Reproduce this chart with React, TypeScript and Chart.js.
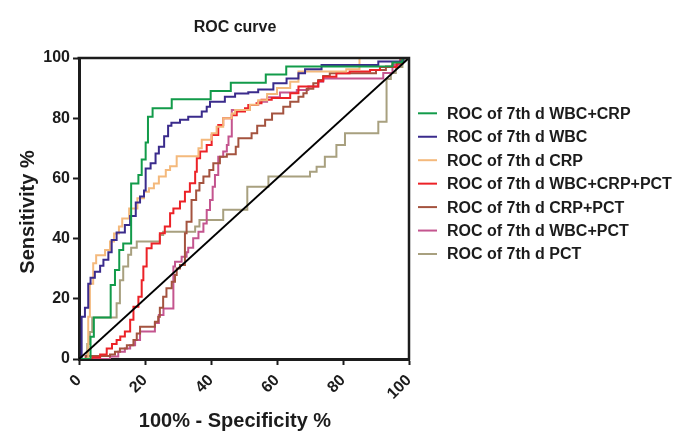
import React, { useEffect, useRef } from "react";
import { Chart, registerables } from "chart.js";

Chart.register(...registerables);

const chartTitle = "ROC curve";
const xAxisTitle = "100% - Specificity %";
const yAxisTitle = "Sensitivity %";
const xTickValues = [0, 20, 40, 60, 80, 100];
const yTickValues = [0, 20, 40, 60, 80, 100];

const seriesLabels = [
  "ROC of 7th d WBC+CRP",
  "ROC of 7th d WBC",
  "ROC of 7th d CRP",
  "ROC of 7th d WBC+CRP+PCT",
  "ROC of 7th d CRP+PCT",
  "ROC of 7th d WBC+PCT",
  "ROC of 7th d PCT",
];
const seriesColors = ["#129b4a", "#3a2b8c", "#f4b97c", "#ec2227", "#a4533f", "#c4558f", "#a8a07f"];

// [100% - specificity, sensitivity] vertices
const rocWbcCrp: number[][] = [
  [0, 0], [3.5, 0], [3.5, 7.4], [4.5, 7.4], [4.5, 13.8], [9.6, 13.8], [9.6, 24.6], [10.9, 24.6], [10.9, 29.6],
  [12.2, 29.6], [12.2, 36.2], [13.4, 36.2], [13.4, 38.4], [15.8, 38.4], [15.8, 58.3], [18, 58.3], [18, 61.1],
  [19, 61.1], [19, 66.3], [20.2, 66.3], [20.2, 71.9], [20.9, 71.9], [20.9, 80.5], [22.3, 80.5], [22.3, 83.3],
  [28.1, 83.3], [28.1, 86.3], [39.9, 86.3], [39.9, 89], [46, 89], [46, 91.8], [56.6, 91.8], [56.6, 94.5],
  [62.8, 94.5], [62.8, 97.2], [95, 97.2], [95, 98.5], [98, 98.5], [98, 100], [100, 100],
];
const rocWbc: number[][] = [
  [0, 0], [0.8, 0], [0.8, 14], [1.8, 14], [1.8, 17], [2.8, 17], [2.8, 25], [3.5, 25], [3.5, 27], [4.8, 27],
  [4.8, 29], [6.4, 29], [6.4, 31], [7.4, 31], [7.4, 33], [8.9, 33], [8.9, 35.5], [9.9, 35.5], [9.9, 39.5],
  [11.4, 39.5], [11.4, 42], [13.9, 42], [13.9, 44.5], [15.5, 44.5], [15.5, 47.5], [17.2, 47.5], [17.2, 52],
  [18.5, 52], [18.5, 54], [19.7, 54], [19.7, 56], [20.2, 56], [20.2, 63.3], [21.7, 63.3], [21.7, 65],
  [23.2, 65], [23.2, 68.3], [24.2, 68.3], [24.2, 70.5], [25.8, 70.5], [25.8, 74], [27, 74], [27, 77.5],
  [28, 77.5], [28, 78.5], [30.6, 78.5], [30.6, 79.5], [33.1, 79.5], [33.1, 80.5], [37.2, 80.5], [37.2, 82.2],
  [38.7, 82.2], [38.7, 83.8], [39.7, 83.8], [39.7, 85.5], [44.2, 85.5], [44.2, 87.1], [47.3, 87.1],
  [47.3, 88.2], [51.3, 88.2], [51.3, 88.6], [54.3, 88.6], [54.3, 89.5], [58.9, 89.5], [58.9, 91.6],
  [62.9, 91.6], [62.9, 93.2], [66.5, 93.2], [66.5, 94.9], [68.5, 94.9], [68.5, 96.3], [73.5, 96.3],
  [73.5, 97.7], [90.7, 97.7], [90.7, 98.8], [98.3, 98.8], [98.3, 100], [100, 100],
];
const rocCrp: number[][] = [
  [0, 0], [2.8, 0], [2.8, 14], [3.3, 14], [3.3, 25], [4.3, 25], [4.3, 31.8], [5.2, 31.8], [5.2, 34.5],
  [7.9, 34.5], [7.9, 36.2], [9.4, 36.2], [9.4, 39], [10.6, 39], [10.6, 41.7], [12.1, 41.7], [12.1, 44],
  [13.1, 44], [13.1, 46.7], [15.2, 46.7], [15.2, 50], [17.7, 50], [17.7, 53.4], [19.7, 53.4], [19.7, 55.6],
  [21.2, 55.6], [21.2, 56.7], [22.7, 56.7], [22.7, 58.3], [24.2, 58.3], [24.2, 60.6], [26.3, 60.6],
  [26.3, 62.8], [27.6, 62.8], [27.6, 64], [29.6, 64], [29.6, 67.4], [36.2, 67.4], [36.2, 70], [37.2, 70],
  [37.2, 72.8], [40.2, 72.8], [40.2, 75], [41.7, 75], [41.7, 77.2], [43.7, 77.2], [43.7, 80], [46.3, 80],
  [46.3, 81.6], [47.3, 81.6], [47.3, 82.7], [51.8, 82.7], [51.8, 84.5], [54.3, 84.5], [54.3, 86], [57, 86],
  [57, 88], [60, 88], [60, 90], [64, 90], [64, 92.1], [66.5, 92.1], [66.5, 95.5], [81, 95.5], [81, 96.3],
  [85, 96.3], [85, 100], [100, 100],
];
const rocWbcCrpPct: number[][] = [
  [0, 0], [4, 0], [4, 0.5], [6.4, 0.5], [6.4, 1.5], [8.4, 1.5], [8.4, 3.5], [10, 3.5], [10, 5], [11.4, 5],
  [11.4, 6.3], [12.5, 6.3], [12.5, 7.5], [13.9, 7.5], [13.9, 9.1], [15.5, 9.1], [15.5, 13], [16.5, 13],
  [16.5, 17.4], [18, 17.4], [18, 20.7], [19, 20.7], [19, 26.2], [19.5, 26.2], [19.5, 30.7], [20.5, 30.7],
  [20.5, 36.8], [22, 36.8], [22, 38.4], [24.5, 38.4], [24.5, 41.8], [26, 41.8], [26, 44], [27.6, 44],
  [27.6, 48.4], [28.6, 48.4], [28.6, 50], [30.6, 50], [30.6, 52.3], [32.1, 52.3], [32.1, 55.6], [33.6, 55.6],
  [33.6, 58.4], [35.2, 58.4], [35.2, 62.2], [35.7, 62.2], [35.7, 66.7], [36.7, 66.7], [36.7, 68.9],
  [38.7, 68.9], [38.7, 71.1], [40.2, 71.1], [40.2, 74.4], [42.2, 74.4], [42.2, 77.7], [43.7, 77.7],
  [43.7, 80], [46.3, 80], [46.3, 81], [47.8, 81], [47.8, 82.2], [50.3, 82.2], [50.3, 83.3], [51.3, 83.3],
  [51.3, 84.4], [53.8, 84.4], [53.8, 85], [55.3, 85], [55.3, 86.1], [58.4, 86.1], [58.4, 86.7], [64, 86.7],
  [64, 88.3], [66.5, 88.3], [66.5, 90.5], [72.5, 90.5], [72.5, 92.4], [74, 92.4], [74, 93.8], [78, 93.8],
  [78, 94.9], [82, 94.9], [82, 95.5], [88.2, 95.5], [88.2, 96], [91.2, 96], [91.2, 97], [96.3, 97],
  [96.3, 98.2], [98, 98.2], [98, 100], [100, 100],
];
const rocCrpPct: number[][] = [
  [0, 0], [2, 0], [2, 1], [9.4, 1], [9.4, 1.5], [10.9, 1.5], [10.9, 2.4], [12.4, 2.4], [12.4, 3.5],
  [14.5, 3.5], [14.5, 4.6], [16.5, 4.6], [16.5, 6.3], [17.5, 6.3], [17.5, 8.5], [18.5, 8.5], [18.5, 10.7],
  [23, 10.7], [23, 12.4], [24, 12.4], [24, 14], [24.5, 14], [24.5, 17], [25.5, 17], [25.5, 20.7],
  [26.5, 20.7], [26.5, 23.5], [28.1, 23.5], [28.1, 25.7], [29.1, 25.7], [29.1, 27.9], [29.6, 27.9],
  [29.6, 30.1], [30.6, 30.1], [30.6, 31.2], [32.1, 31.2], [32.1, 41.8], [32.6, 41.8], [32.6, 45.6],
  [34.1, 45.6], [34.1, 52.8], [35.5, 52.8], [35.5, 56], [36.5, 56], [36.5, 58.5], [37.7, 58.5],
  [37.7, 60.6], [39.5, 60.6], [39.5, 62.8], [40.7, 62.8], [40.7, 65], [42.7, 65], [42.7, 67.2],
  [44.8, 67.2], [44.8, 68], [47.5, 68], [47.5, 70.5], [48.3, 70.5], [48.3, 73.3], [52.3, 73.3], [52.3, 75],
  [54, 75], [54, 77.5], [56.4, 77.5], [56.4, 79.5], [58.5, 79.5], [58.5, 81.6], [61.9, 81.6], [61.9, 83.8],
  [64, 83.8], [64, 85.5], [66.5, 85.5], [66.5, 87.1], [68, 87.1], [68, 88.3], [69, 88.3], [69, 89.8],
  [71, 89.8], [71, 91.6], [72.5, 91.6], [72.5, 92.7], [74, 92.7], [74, 94], [76, 94], [76, 94.9], [90, 94.9],
  [90, 96], [93, 96], [93, 97.2], [95, 97.2], [95, 98.5], [97.5, 98.5], [97.5, 100], [100, 100],
];
const rocWbcPct: number[][] = [
  [0, 0], [9.4, 0], [9.4, 0.8], [11.9, 0.8], [11.9, 2.4], [13.9, 2.4], [13.9, 3.5], [15.5, 3.5], [15.5, 4.6],
  [17, 4.6], [17, 6.3], [18.5, 6.3], [18.5, 9.1], [23, 9.1], [23, 12], [24.2, 12], [24.2, 14.6], [25.6, 14.6],
  [25.6, 16.8], [28.6, 16.8], [28.6, 30.7], [29.1, 30.7], [29.1, 32.3], [31.1, 32.3], [31.1, 34], [32.6, 34],
  [32.6, 35.5], [33.1, 35.5], [33.1, 37], [34.6, 37], [34.6, 40.1], [36.2, 40.1], [36.2, 42.3], [37.7, 42.3],
  [37.7, 45], [38.7, 45], [38.7, 49.5], [39.7, 49.5], [39.7, 52.8], [40.5, 52.8], [40.5, 57.2], [41.2, 57.2],
  [41.2, 61.1], [42.2, 61.1], [42.2, 67.2], [43.7, 67.2], [43.7, 68.9], [44.8, 68.9], [44.8, 71.1],
  [45.3, 71.1], [45.3, 73.9], [46.3, 73.9], [46.3, 82.7], [51.8, 82.7], [51.8, 84.4], [54.3, 84.4],
  [54.3, 85.5], [57, 85.5], [57, 87], [60.9, 87], [60.9, 88.5], [66, 88.5], [66, 89.4], [69.5, 89.4],
  [69.5, 90.5], [72.5, 90.5], [72.5, 92.1], [74, 92.1], [74, 93.2], [92.2, 93.2], [92.2, 95], [95, 95],
  [95, 97.7], [97.3, 97.7], [97.3, 100], [100, 100],
];
const rocPct: number[][] = [
  [0, 0], [2.5, 0], [2.5, 5], [3.3, 5], [3.3, 9], [4, 9], [4, 13.8], [11.4, 13.8], [11.4, 18.5], [12.4, 18.5],
  [12.4, 26.2], [13.4, 26.2], [13.4, 30.7], [14.9, 30.7], [14.9, 34.6], [15.8, 34.6], [15.8, 37], [17.5, 37],
  [17.5, 39], [24.5, 39], [24.5, 41.2], [25.5, 41.2], [25.5, 42.3], [35.2, 42.3], [35.2, 44], [36.5, 44],
  [36.5, 46.2], [43.7, 46.2], [43.7, 49.6], [51, 49.6], [51, 57.2], [57.4, 57.2], [57.4, 60.6], [70, 60.6],
  [70, 62.2], [72, 62.2], [72, 63.9], [74.5, 63.9], [74.5, 67.2], [78, 67.2], [78, 71.1], [80.6, 71.1],
  [80.6, 75], [90.7, 75], [90.7, 78.8], [93.2, 78.8], [93.2, 93], [94.5, 93], [94.5, 95], [96, 95], [96, 97],
  [98, 97], [98, 99], [100, 100],
];
const referenceLine: number[][] = [[0, 0], [100, 100]];

const seriesData = [rocWbcCrp, rocWbc, rocCrp, rocWbcCrpPct, rocCrpPct, rocWbcPct, rocPct];

const FONT = "'Liberation Sans', Arial, Helvetica, sans-serif";
const INK = "#1c1c1c";

const decorPlugin = {
  id: "decor",
  afterDatasetsDraw(chart: any) {
    const { ctx, chartArea: a } = chart;
    ctx.save();
    // top and right frame
    ctx.strokeStyle = INK;
    ctx.lineWidth = 2.5;
    ctx.beginPath();
    ctx.moveTo(a.left - 1.5, a.top);
    ctx.lineTo(a.right, a.top);
    ctx.lineTo(a.right, a.bottom + 1.5);
    ctx.stroke();

    ctx.fillStyle = INK;
    // chart title
    ctx.font = `bold 16px ${FONT}`;
    ctx.textAlign = "center";
    ctx.textBaseline = "alphabetic";
    ctx.fillText(chartTitle, 235, 32);

    // x axis title
    ctx.font = `bold 20px ${FONT}`;
    ctx.fillText(xAxisTitle, 235, 427);

    // y axis title
    ctx.save();
    ctx.translate(34, 212);
    ctx.rotate(-Math.PI / 2);
    ctx.fillText(yAxisTitle, 0, 0);
    ctx.restore();

    // legend
    ctx.font = `bold 16px ${FONT}`;
    ctx.textAlign = "left";
    ctx.textBaseline = "middle";
    seriesLabels.forEach((label, i) => {
      const y = 113.3 + i * 23.45;
      ctx.strokeStyle = seriesColors[i];
      ctx.lineWidth = 2;
      ctx.beginPath();
      ctx.moveTo(418, y);
      ctx.lineTo(437, y);
      ctx.stroke();
      ctx.fillStyle = INK;
      ctx.fillText(label, 447, y + 1);
    });
    ctx.restore();
  },
};

export default function App() {
  const canvasRef = useRef<HTMLCanvasElement | null>(null);

  useEffect(() => {
    if (!canvasRef.current) return;
    const datasets: any[] = [
      {
        label: "Reference",
        data: referenceLine.map(([x, y]) => ({ x, y })),
        borderColor: "#000000",
        borderWidth: 2,
        showLine: true,
        pointRadius: 0,
        fill: false,
      },
      ...seriesData.map((d, i) => ({
        label: seriesLabels[i],
        data: d.map(([x, y]) => ({ x, y })),
        borderColor: seriesColors[i],
        backgroundColor: seriesColors[i],
        borderWidth: 2,
        showLine: true,
        pointRadius: 0,
        fill: false,
        tension: 0,
      })),
    ];

    const tickFont = { family: FONT, size: 16, weight: "bold" as const };
    const chart = new Chart(canvasRef.current, {
      type: "scatter",
      data: { datasets },
      options: {
        animation: false,
        responsive: false,
        layout: { padding: { top: 58, right: 276, left: 0, bottom: 0 } },
        plugins: {
          legend: { display: false },
          title: { display: false },
          tooltip: { enabled: false },
        },
        scales: {
          x: {
            type: "linear",
            min: 0,
            max: 100,
            afterBuildTicks: (s: any) => {
              s.ticks = xTickValues.map((v) => ({ value: v }));
            },
            afterFit: (s: any) => {
              s.height = 82;
            },
            border: { display: true, color: INK, width: 3 },
            grid: { display: true, drawOnChartArea: false, drawTicks: true, tickLength: 6, tickWidth: 2, tickColor: INK },
            ticks: { font: tickFont, color: INK, minRotation: 45, maxRotation: 45, autoSkip: false, padding: 6 },
          },
          y: {
            type: "linear",
            min: 0,
            max: 100,
            afterBuildTicks: (s: any) => {
              s.ticks = yTickValues.map((v) => ({ value: v }));
            },
            afterFit: (s: any) => {
              s.width = 79;
            },
            border: { display: true, color: INK, width: 3 },
            grid: { display: true, drawOnChartArea: false, drawTicks: true, tickLength: 6, tickWidth: 2, tickColor: INK },
            ticks: { font: tickFont, color: INK, autoSkip: false, padding: 3 },
          },
        },
      },
      plugins: [decorPlugin],
    } as any);
    return () => chart.destroy();
  }, []);

  return (
    <div style={{ position: "fixed", left: 0, top: 0, width: 685, height: 441, background: "#ffffff" }}>
      <canvas ref={canvasRef} width={685} height={441} style={{ display: "block" }} />
    </div>
  );
}
